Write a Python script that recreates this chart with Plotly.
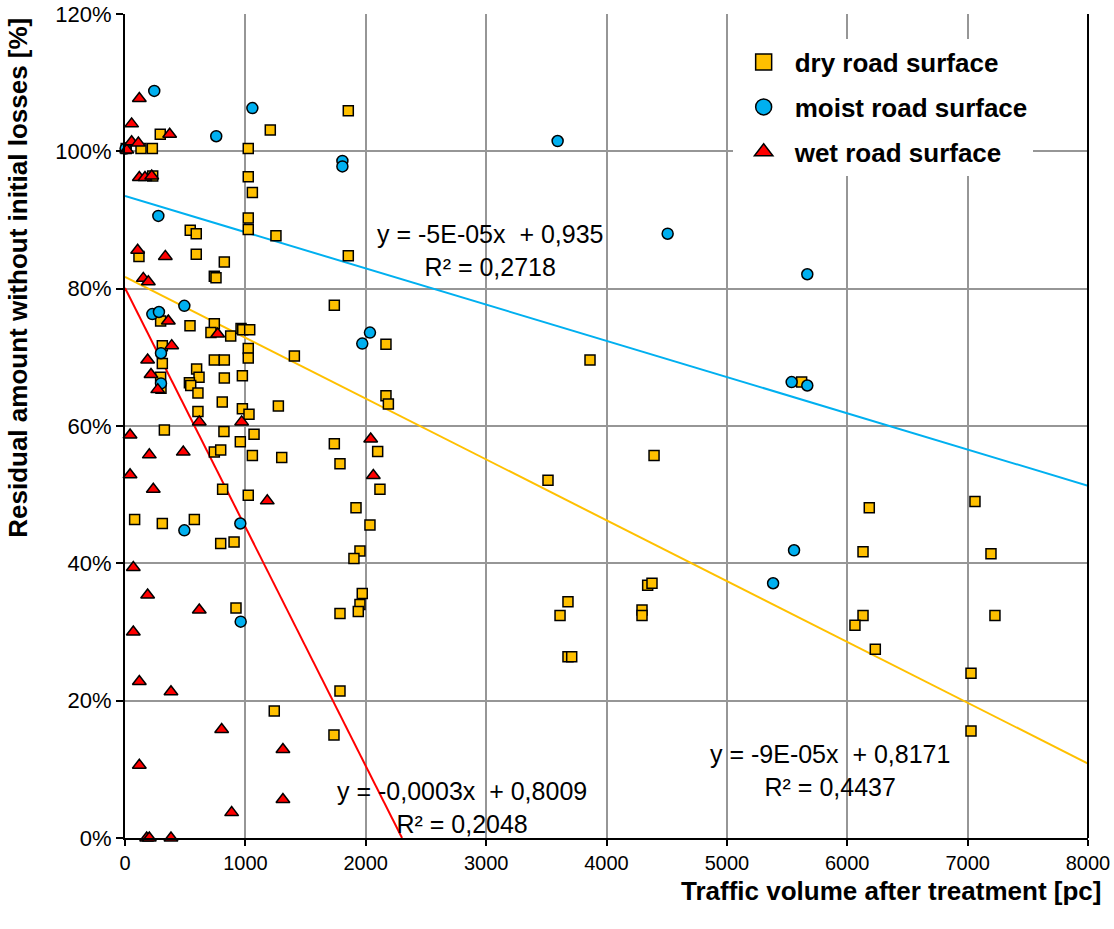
import plotly.graph_objects as go

# ---------------- data ----------------
dry_x = [10, 293, 1207, 133, 227, 1024, 230, 1024, 1058, 1024, 1024, 1254, 542, 592, 592, 825,
         742, 756, 116,
         296, 540, 742, 714, 878, 964, 978, 1036, 1024, 1024, 1407, 310, 310, 296, 299, 742, 825,
         595, 615, 535, 546, 606, 825, 975, 808, 606, 975, 1030, 1274, 327, 822, 1072, 958, 742,
         795, 1058, 1302, 811, 1024, 80, 310, 576, 795, 906,
         922, 1240,
         1855, 1855, 1739, 2168, 2168, 2188, 1739, 2099, 1786, 2118, 1919, 2035, 1952, 1902, 1971,
         1952, 1938, 1786, 1786, 1736,
         3863, 4395, 3514, 4342, 4378, 3680, 3614, 4295, 4295, 3680, 3711,
         6183, 7061, 6131, 7194, 6131, 6064, 6233, 7227, 7028, 7028, 5621]
dry_y = [100.4, 102.5, 103.1, 100.4, 100.4, 100.4, 96.4, 96.3, 94.0, 90.3, 88.6, 87.7, 88.5, 88.0,
         85.0, 83.9, 81.8, 81.6, 84.7,
         75.3, 74.6, 74.9, 73.6, 73.1, 74.2, 74.0, 74.0, 71.3, 69.9, 70.2, 71.7, 69.1, 67.1, 65.5,
         69.6, 69.6, 68.3, 67.1, 66.3, 65.9, 64.8, 67.0, 67.3, 63.5, 62.1, 62.5, 61.7, 62.9, 59.4,
         59.2, 58.8, 57.7, 56.2, 56.5, 55.7, 55.4, 50.8, 49.9, 46.4, 45.8, 46.4, 42.9, 43.1,
         33.5, 18.5,
         105.9, 84.8, 77.6, 71.9, 64.4, 63.2, 57.4, 56.3, 54.5, 50.8, 48.1, 45.6, 41.8, 40.7, 35.6,
         34.0, 33.0, 32.7, 21.4, 15.0,
         69.6, 55.7, 52.1, 36.8, 37.1, 34.4, 32.4, 33.2, 32.4, 26.4, 26.4,
         48.1, 49.0, 41.7, 41.4, 32.4, 31.0, 27.5, 32.4, 24.0, 15.6, 66.4]

moist_x = [5, 243, 1058, 758, 277, 493, 227, 282, 299, 299, 493, 958, 961, 1806, 1806, 2035, 1971,
           3594, 4508, 5668, 5538, 5668, 5558, 5384]
moist_y = [100.4, 108.8, 106.3, 102.2, 90.6, 77.5, 76.3, 76.6, 70.6, 66.2, 44.8, 45.8, 31.5, 98.6,
           97.8, 73.6, 72.0, 101.5, 88.0, 82.1, 66.4, 65.9, 41.9, 37.1]

wet_x = [15, 119, 55, 371, 55, 111, 119, 166, 222, 105, 335, 152, 194, 360, 770, 388, 188, 216, 272,
         617, 969, 42, 202, 484, 42, 235, 1182, 69, 188, 617, 69, 119, 382, 803, 119, 1312, 1312,
         886, 180, 202, 382, 2041, 2063]
wet_y = [100.2, 107.7, 104.0, 102.5, 101.4, 101.2, 96.2, 96.2, 96.4, 85.6, 84.7, 81.5, 81.0, 75.3,
         73.4, 71.7, 69.6, 67.5, 65.3, 60.6, 60.6, 58.7, 55.8, 56.2, 52.9, 50.8, 49.1, 39.4, 35.4,
         33.2, 30.0, 22.8, 21.3, 15.8, 10.6, 12.9, 5.6, 3.7, 0, 0, 0, 58.1, 52.8]

series_names = ["dry road surface", "moist road surface", "wet road surface"]

# linear trendlines: intercept (fraction) and slope (fraction per pc)
trend_intercept = [0.8171, 0.935, 0.8009]
trend_slope = [-8.86e-5, -5.275e-5, -3.48e-4]
trend_labels = ["y = -9E-05x  + 0,8171<br>R² = 0,4437",
                "y = -5E-05x  + 0,935<br>R² = 0,2718",
                "y = -0,0003x  + 0,8009<br>R² = 0,2048"]
label_pos_x = [5860, 3040, 2800]
label_pos_y = [9.8, 85.5, 4.5]

x_max = 8000
x_ticks = list(range(0, 8001, 1000))
y_ticks = list(range(0, 121, 20))
y_ticktext = [f"{v}%" for v in y_ticks]

# ---------------- styles ----------------
FONT = "Liberation Sans, Arial, sans-serif"
fills = ["#FFC000", "#00B0F0", "#FF0000"]
symbols = ["square", "circle", "triangle-up"]
sizes = [10, 11, 12]

fig = go.Figure()

# trendlines (drawn first, below markers)
for i in range(3):
    b = trend_intercept[i]
    m = trend_slope[i]
    x_end = x_max
    if b + m * x_end < 0:
        x_end = -b / m
    fig.add_trace(go.Scatter(
        x=[0, x_end], y=[b * 100, (b + m * x_end) * 100], mode="lines",
        line=dict(color=fills[i], width=2), showlegend=False, hoverinfo="skip"))

data = [(dry_x, dry_y), (moist_x, moist_y), (wet_x, wet_y)]
for i, (xs, ys) in enumerate(data):
    fig.add_trace(go.Scatter(
        x=xs, y=ys, mode="markers", name=series_names[i], showlegend=False,
        cliponaxis=False,
        marker=dict(symbol=symbols[i], size=sizes[i], color=fills[i],
                    line=dict(color="black", width=1.5))))

# legend entries (larger symbols as in the reference legend)
for i in range(3):
    fig.add_trace(go.Scatter(
        x=[None], y=[None], mode="markers", name=series_names[i], legendgroup=series_names[i],
        marker=dict(symbol=symbols[i], size=16, color=fills[i],
                    line=dict(color="black", width=1.5))))

# trendline equation labels
for i in range(3):
    fig.add_annotation(x=label_pos_x[i], y=label_pos_y[i], text=trend_labels[i],
                       showarrow=False, xanchor="center", yanchor="middle", align="center",
                       font=dict(family=FONT, size=25, color="black"))

# axis titles
fig.add_annotation(xref="paper", yref="paper", x=1.0156, y=-0.064, xanchor="right",
                   yanchor="middle", showarrow=False,
                   text="Traffic volume after treatment [pc]",
                   font=dict(family=FONT, size=26, color="black", weight="bold"))
fig.add_annotation(xref="paper", yref="paper", x=-0.111, y=0.68, xanchor="center",
                   yanchor="middle", showarrow=False, textangle=-90,
                   text="Residual amount without initial losses [%]",
                   font=dict(family=FONT, size=26, color="black", weight="bold"))

# right border of the plot area
fig.add_shape(type="line", xref="paper", yref="paper", x0=1, x1=1, y0=0, y1=1,
              line=dict(color="black", width=2))

fig.update_layout(
    width=1114, height=929,
    margin=dict(l=125, r=26, t=14, b=91, autoexpand=False),
    paper_bgcolor="white", plot_bgcolor="white",
    font=dict(family=FONT, color="black"),
    showlegend=True,
    legend=dict(x=0.631, y=0.970, xanchor="left", yanchor="top",
                bgcolor="white", borderwidth=0, tracegroupgap=8, itemwidth=52,
                font=dict(family=FONT, size=26, color="black", weight="bold")),
    xaxis=dict(range=[0, x_max], tickvals=x_ticks, tickformat="d", automargin=False,
               showgrid=True, gridcolor="#969696", gridwidth=2,
               showline=True, linecolor="black", linewidth=2,
               ticks="outside", ticklen=6, tickcolor="black", tickwidth=2,
               tickfont=dict(family=FONT, size=20, color="black"),
               zeroline=False),
    yaxis=dict(range=[0, 120], tickvals=y_ticks, ticktext=y_ticktext, automargin=False,
               showgrid=True, gridcolor="#969696", gridwidth=2,
               showline=True, linecolor="black", linewidth=2,
               ticks="outside", ticklen=7, tickcolor="black", tickwidth=2,
               tickfont=dict(family=FONT, size=22, color="black"),
               zeroline=False),
)

fig.write_html("out.html", config={"displayModeBar": False},
               post_script="document.body.style.margin='0';")
